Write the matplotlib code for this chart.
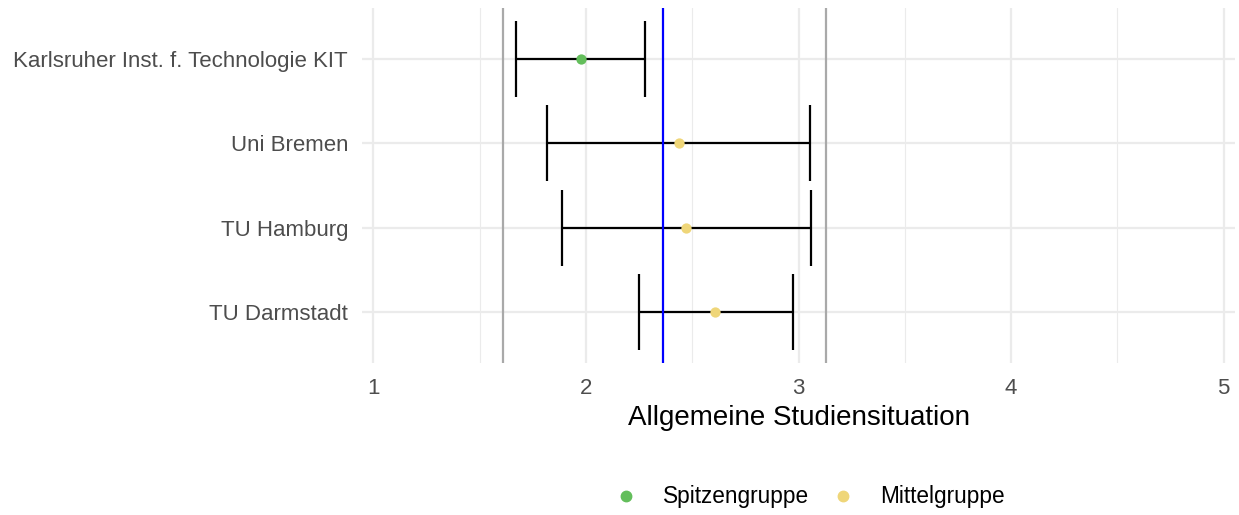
import numpy as np
import matplotlib.pyplot as plt
from matplotlib.lines import Line2D

plt.rcParams['font.family'] = ['Liberation Sans', 'DejaVu Sans']

# data
unis = ['Karlsruher Inst. f. Technologie KIT', 'Uni Bremen', 'TU Hamburg', 'TU Darmstadt']
mean = [1.975, 2.436, 2.472, 2.608]
lower = [1.672, 1.818, 1.886, 2.249]
upper = [2.277, 3.056, 3.061, 2.972]
group = ['Spitzengruppe', 'Mittelgruppe', 'Mittelgruppe', 'Mittelgruppe']
overall_mean = 2.365
band = [1.61, 3.127]

group_colors = {'Spitzengruppe': '#63BE5B', 'Mittelgruppe': '#EFD679'}

W, H = 1239, 515
fig = plt.figure(figsize=(W / 100, H / 100), dpi=100)
ax = fig.add_axes([362 / W, 1 - 363 / H, (1235 - 362) / W, (363 - 8) / H])

ypos = np.arange(len(unis))[::-1]

# grid
for v in np.arange(1, 5.01, 1):
    ax.axvline(v, color='#EBEBEB', lw=1.6, zorder=0)
for v in np.arange(1.5, 5, 1):
    ax.axvline(v, color='#EBEBEB', lw=0.8, zorder=0)
for y in ypos:
    ax.axhline(y, color='#EBEBEB', lw=1.6, zorder=0)

for b in band:
    ax.axvline(b, color='#A9A9A9', lw=1.6, zorder=1)
ax.axvline(overall_mean, color='#0000FF', lw=1.6, zorder=3)

for i, y in enumerate(ypos):
    ax.errorbar(mean[i], y, xerr=[[mean[i] - lower[i]], [upper[i] - mean[i]]],
                fmt='none', ecolor='black', elinewidth=1.6, capsize=27.4, capthick=1.6, zorder=2)
    ax.scatter(mean[i], y, s=55, color=group_colors[group[i]], zorder=4, linewidths=0)

ax.set_xlim(0.947, 5.053)
ax.set_ylim(-0.6, len(unis) - 0.4)
ax.set_xticks([1, 2, 3, 4, 5])
ax.set_yticks(ypos)
ax.set_yticklabels(unis)
ax.tick_params(length=0, labelsize=16, labelcolor='#4D4D4D')
ax.tick_params(axis='x', pad=11)
ax.tick_params(axis='y', pad=10)
for s in ax.spines.values():
    s.set_visible(False)
ax.set_xlabel('Allgemeine Studiensituation', fontsize=20, labelpad=4)

handles = [Line2D([], [], marker='o', ls='none', color=group_colors[g], markersize=7.5)
           for g in ['Spitzengruppe', 'Mittelgruppe']]
fig.legend(handles, ['Spitzengruppe', 'Mittelgruppe'], loc='center', ncol=2,
           bbox_to_anchor=(810 / W, 1 - 497 / H), frameon=False, fontsize=16.3,
           handlelength=1.0, handletextpad=1.13, columnspacing=1.0,
           borderpad=0, borderaxespad=0)

fig.savefig('out.png', dpi=100)
